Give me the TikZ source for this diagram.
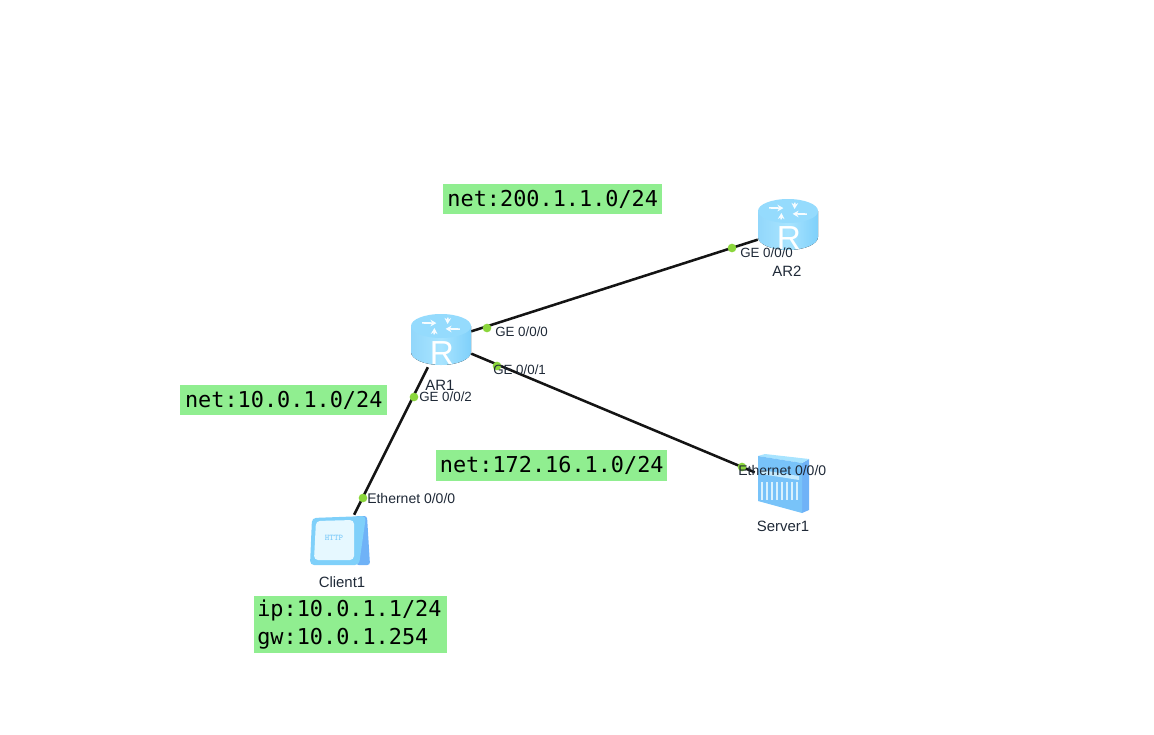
\documentclass[tikz,border=0pt]{standalone}
\usepackage{fontspec}
\setmainfont{Liberation Sans}
\newfontfamily\labelmono{DejaVu Sans Mono}
\usetikzlibrary{positioning, arrows.meta, calc}
\definecolor{cLink}     {HTML}{141414}
\definecolor{cPort}     {HTML}{8BD63C}
\definecolor{cNote}     {HTML}{90EE90}
\definecolor{cText}     {HTML}{1F2937}
\definecolor{cSkyLight} {HTML}{A8E4FF}
\definecolor{cSkyMid}   {HTML}{7FD0FA}
\definecolor{cSkyDeep}  {HTML}{6FB2F7}
\definecolor{cSkyPale}  {HTML}{E6F8FF}
\tikzset{
  device/.style={minimum width=60\pxu, minimum height=52\pxu, inner sep=0pt},
  link/.style={draw=cLink, line width=1.9pt},
  port/.style={circle, fill=cPort, minimum size=6.5pt, inner sep=0pt},
  portlabel/.style={font=\fontsize{10}{12}\selectfont, text=cText, anchor=west, inner sep=0pt},
  etherlabel/.style={portlabel, font=\fontsize{10.5}{12}\selectfont},
  devlabel/.style={font=\fontsize{11.2}{13}\selectfont, text=cText, inner sep=0pt},
  note/.style={fill=cNote, font=\labelmono\fontsize{16.4}{21}\selectfont, text=black,
               anchor=north west, inner sep=0pt},
  routericon/.pic={
    \fill[left color=cSkyMid!85!white, right color=cSkyMid, middle color=cSkyLight]
      (-30,-13) -- (30,-13) -- (30,13) arc[start angle=0, end angle=180, x radius=30, y radius=13] -- cycle;
    \fill[cSkyLight!55!cSkyMid] (0,-13) ellipse[x radius=30, y radius=12];
    \foreach \a in {20,110,200,290}
      \draw[white!90!cSkyLight, line width=1.2pt, -{Stealth[length=4.5pt, width=5pt]}]
        ($(0,-13)+(\a:20 and 9)$) -- ($(0,-13)+(\a+35:8 and 3.5)$);
    \node[text=white, font=\fontsize{25}{25}\selectfont, inner sep=0pt] (-rlet) at (1,14) {R};
  },
  servericon/.pic={
    \fill[cSkyDeep] (18,-21) -- (25,-25) -- (25,26) -- (18,29) -- cycle;
    \fill[cSkyLight] (-26,-28) -- (-19,-30) -- (25,-25) -- (18,-21) -- cycle;
    \fill[cSkyMid!55!cSkyDeep] (-26,-28) -- (18,-21) -- (18,29) -- (-26,17) -- cycle;
    \foreach \s in {-22,-17,...,13}
      \draw[white!70!cSkyMid, line width=0.8pt] (\s,-2) -- (\s,16);
    \fill[white!55!cSkyMid] (-23,-14) -- (15,-8) -- (15,-4) -- (-23,-10) -- cycle;
  },
  clienticon/.pic={
    \fill[cSkyDeep, rounded corners=2pt] (15,-25) -- (27,-25) -- (30,24) -- (16,24) -- cycle;
    \fill[cSkyMid, rounded corners=3pt] (-28,-23) -- (26,-25) -- (19,24) -- (-30,24) -- cycle;
    \fill[cSkyPale, rounded corners=3pt] (-24,-20) -- (14,-21) -- (14,19) -- (-26,19) -- cycle;
    \node[text=cSkyMid!80!cSkyDeep, font=\ttfamily\fontsize{6.5}{6.5}\selectfont\bfseries, inner sep=0pt] (-http) at (-6,-3) {HTTP};
  },
}
\newdimen\pxu
\pxu=0.75pt
\begin{document}
\begin{tikzpicture}[x=0.75pt, y=-0.75pt]
        \useasboundingbox (0,0) rectangle (1154,735);
        % devices, with the lines first so the icons lie on top
        \node[device] (AR1) at (441,341) {};
        \node[device] (AR2) at (788,230) {};
        \node[device] (Server1) at (785,485) {};
        \node[device] (Client1) at (341,541) {};
        \draw[link] (AR1) -- (AR2);
        \draw[link] (AR1) -- (Server1);
        \draw[link] (AR1) -- (Client1);
        \pic (iconAR1) at (441,339) {routericon};
        \pic (iconAR2) at (788,224) {routericon};
        \pic (iconServer1) at (784,484) {servericon};
        \pic (iconClient1) at (340,541) {clienticon};
        % interface dots and names
        \foreach \n/\x/\y/\tx/\ty/\t in {a/487/328/495/332/GE 0\slash 0\slash 0, b/497/366/493/370/GE 0\slash 0\slash 1,
            c/414/397/419/397/GE 0\slash 0\slash 2, d/732/248/740/253/GE 0\slash 0\slash 0}{
          \node[port] (port\n) at (\x,\y) {};
          \node[portlabel] (label\n) at (\tx,\ty) {\t};
        }
        \foreach \n/\x/\y/\tx/\ty in {e/363/498/367/498, f/742/467/738/470}{
          \node[port] (port\n) at (\x,\y) {};
          \node[etherlabel] (label\n) at (\tx,\ty) {Ethernet 0\slash 0\slash 0};
        }
        \foreach \m/\x/\y in {AR1/440/385, AR2/787/271, Server1/783/526, Client1/342/582}
          \node[devlabel] (name\m) at (\x,\y) {\m};
        % address notes
        \node[note, minimum width=219\pxu, minimum height=30\pxu] (netTop) at (443,184) {\hspace{0\pxu}net:200.1.1.0/24\hfill};
        \node[note, minimum width=207\pxu, minimum height=30\pxu] (netLeft) at (180,385) {\hspace{0\pxu}net:10.0.1.0/24\hfill};
        \node[note, minimum width=231\pxu, minimum height=31\pxu] (netMid) at (436,450) {\hspace{0\pxu}net:172.16.1.0/24\hfill};
        \node[note, minimum width=193\pxu, minimum height=57\pxu, align=left, text width=193\pxu] (addrClient) at (254,596)
          {\hspace*{3\pxu}ip:10.0.1.1/24\\\hspace*{3\pxu}gw:10.0.1.254};
      \end{tikzpicture}
\end{document}
